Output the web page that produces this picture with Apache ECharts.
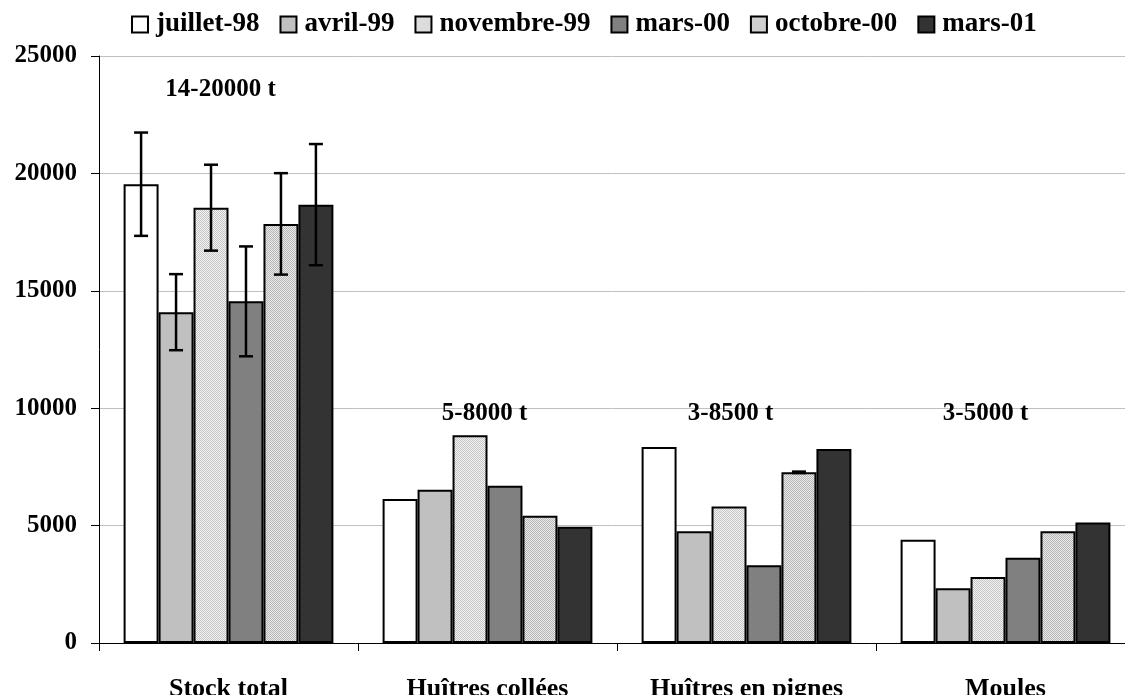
<!DOCTYPE html>
<html><head><meta charset="utf-8">
<script src="https://cdn.jsdelivr.net/npm/echarts@6/dist/echarts.min.js"></script>
<style>html,body{margin:0;padding:0;background:#fff}#c{width:1125px;height:695px}</style>
</head><body><div id="c"></div>
<script>
var categories = ['Stock total', 'Huîtres collées', 'Huîtres en pignes', 'Moules'];
var seriesNames = ['juillet-98', 'avril-99', 'novembre-99', 'mars-00', 'octobre-00', 'mars-01'];
var juillet98 = [19540, 6130, 8350, 4400];
var avril99 = [14090, 6530, 4760, 2330];
var novembre99 = [18540, 8850, 5810, 2810];
var mars00 = [14550, 6700, 3310, 3630];
var octobre00 = [17850, 5420, 7270, 4760];
var mars01 = [18670, 4950, 8260, 5130];
var errJuillet98 = [2200, 0, 0, 0];
var errAvril99 = [1620, 0, 0, 0];
var errNovembre99 = [1830, 0, 0, 0];
var errMars00 = [2340, 0, 0, 0];
var errOctobre00 = [2160, 0, 30, 0];
var errMars01 = [2580, 0, 0, 0];
var annotations = ['14-20000 t', '5-8000 t', '3-8500 t', '3-5000 t'];
var annotationY = [23550, 9780, 9780, 9780];
var yTicks = [0, 5000, 10000, 15000, 20000, 25000];

function checker(a, b) {
  var c = document.createElement('canvas');
  c.width = 2; c.height = 2;
  var g = c.getContext('2d');
  g.fillStyle = a; g.fillRect(0, 0, 2, 2);
  g.fillStyle = b; g.fillRect(0, 0, 1, 1); g.fillRect(1, 1, 1, 1);
  return {image: c, repeat: 'repeat'};
}

var values = [juillet98, avril99, novembre99, mars00, octobre00, mars01];
var errors = [errJuillet98, errAvril99, errNovembre99, errMars00, errOctobre00, errMars01];
var fills = ['#ffffff', '#c0c0c0', checker('#f4f4f4', '#c4c4c4'), '#808080', checker('#ececec', '#b4b4b4'), '#333333'];
var CAT_GAP = 0.19;
var FONT = '"Liberation Serif", "Times New Roman", serif';
var labelShift = [-8, -3, -16, -20];

var series = values.map(function (v, i) {
  return {
    name: seriesNames[i], type: 'bar', data: v,
    barGap: '0%', barCategoryGap: (CAT_GAP * 100) + '%',
    itemStyle: {color: fills[i], borderColor: '#000', borderWidth: 2},
    z: 2
  };
});

var errData = [];
errors.forEach(function (e, s) {
  e.forEach(function (val, c) {
    if (val > 0) errData.push([c, values[s][c], val, s]);
  });
});

series.push({
  type: 'custom', name: 'err', z: 5, silent: true,
  data: errData,
  encode: {x: 0, y: 1},
  renderItem: function (params, api) {
    var c = api.value(0), v = api.value(1), e = api.value(2), s = api.value(3);
    var catW = api.size([1, 0])[0];
    var barW = catW * (1 - CAT_GAP) / 6;
    var center = api.coord([c, v]);
    var x = center[0] + (s - 2.5) * barW;
    var top = api.coord([c, v + e])[1];
    var bot = api.coord([c, v - e])[1];
    var cap = 7;
    var st = {stroke: '#000', lineWidth: 2.5};
    return {type: 'group', children: [
      {type: 'line', shape: {x1: x, y1: top, x2: x, y2: bot}, style: st},
      {type: 'line', shape: {x1: x - cap, y1: top, x2: x + cap, y2: top}, style: st},
      {type: 'line', shape: {x1: x - cap, y1: bot, x2: x + cap, y2: bot}, style: st}
    ]};
  }
});

series.push({
  type: 'scatter', name: 'annot', silent: true, symbolSize: 0, z: 6,
  itemStyle: {opacity: 1},
  data: annotations.map(function (t, i) {
    return {value: [i, annotationY[i]], name: t, label: {offset: [labelShift[i], 0]}};
  }),
  label: {show: true, position: 'inside', formatter: '{b}', color: '#000', opacity: 1,
    fontFamily: FONT, fontWeight: 'bold', fontSize: 25}
});

var chart = echarts.init(document.getElementById('c'));
chart.setOption({
  animation: false,
  backgroundColor: '#fff',
  legend: {
    data: seriesNames, top: 6, left: 126, icon: 'rect',
    itemWidth: 16, itemHeight: 16, itemGap: 20,
    textStyle: {fontFamily: FONT, fontWeight: 'bold', fontSize: 27, color: '#000', padding: [0, 0, 0, 3]}
  },
  grid: {left: 99, right: -10, top: 56, bottom: 52, containLabel: false, outerBoundsMode: 'none'},
  xAxis: {
    type: 'category', data: categories,
    axisLine: {lineStyle: {color: '#000', width: 1}},
    axisTick: {show: true, length: 8, lineStyle: {color: '#000'}},
    axisLabel: {margin: 33, fontFamily: FONT, fontWeight: 'bold', fontSize: 26, color: '#000'}
  },
  yAxis: {
    type: 'value', min: yTicks[0], max: yTicks[yTicks.length - 1], interval: 5000,
    axisLine: {show: true, lineStyle: {color: '#000', width: 1}},
    axisTick: {show: true, length: 8, lineStyle: {color: '#000'}},
    axisLabel: {margin: 22, fontFamily: FONT, fontWeight: 'bold', fontSize: 25, color: '#000',
      formatter: function (v) { return String(v); }},
    splitLine: {show: true, lineStyle: {color: '#c0c0c0', width: 1}}
  },
  series: series
});
</script></body></html>
